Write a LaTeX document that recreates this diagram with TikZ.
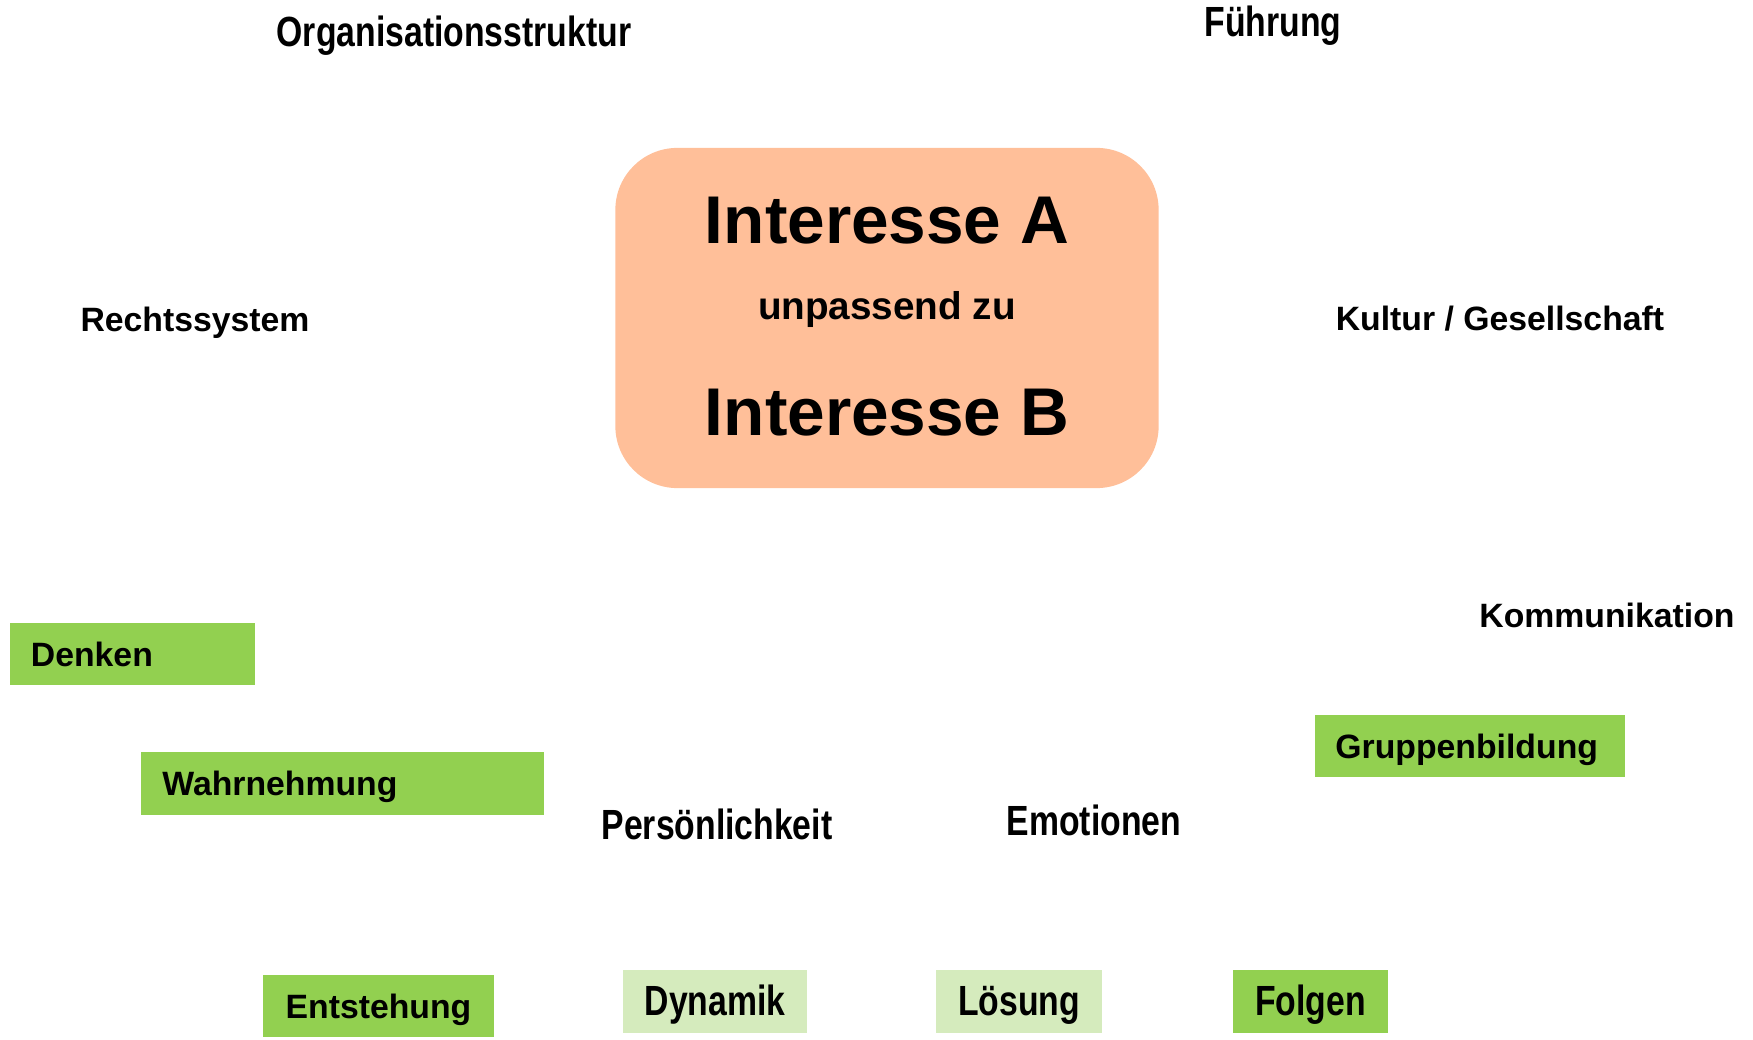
\documentclass[tikz,border=0pt]{standalone}
\usepackage{fontspec}
\setmainfont{Liberation Sans}
\newfontfamily\narrowsans[FakeStretch=0.8]{Liberation Sans}
\definecolor{peach}{HTML}{FFBF99}
\definecolor{leafgreen}{HTML}{92D050}
\definecolor{palegreen}{HTML}{D5EBBD}

\begin{document}
\begin{tikzpicture}[x=0.01cm, y=-0.01cm,
    lbl/.style={anchor=base, inner sep=0pt, font=\fontsize{9.6}{11}\selectfont\bfseries},
    narrowlbl/.style={anchor=base, inner sep=0pt, font=\narrowsans\fontsize{12}{14}\selectfont\bfseries},
    tag/.style={fill=leafgreen, minimum height=0.62cm, inner ysep=0pt, text height=0.7em, text depth=0pt,
        font=\fontsize{9.6}{11}\selectfont\bfseries},
    lefttag/.style={tag, align=left, inner xsep=0.21cm, text width=#1},
    narrowtag/.style={tag, inner xsep=0pt, text height=0.78em, font=\narrowsans\fontsize{12}{14}\selectfont\bfseries},
    core/.style={fill=peach, rounded corners=0.62cm, minimum width=5.43cm, minimum height=3.40cm}]
    \useasboundingbox (0,0) rectangle (1753,1040);

    % central conflict
    \node[core] (conflict) at (887,318) {};
    \node[anchor=base, inner sep=0pt, font=\fontsize{19.2}{22}\selectfont\bfseries] (intA) at (887,244) {Interesse A};
    \node[anchor=base, inner sep=0pt, font=\fontsize{11}{13}\selectfont\bfseries] (misfit) at (887,320) {unpassend zu};
    \node[anchor=base, inner sep=0pt, font=\fontsize{19.2}{22}\selectfont\bfseries] (intB) at (887,436) {Interesse B};

    % surrounding factors
    \node[narrowlbl] (org) at (454,47) {Organisationsstruktur};
    \node[narrowlbl] (lead) at (1273,37) {Führung};
    \node[lbl] (law) at (195,332) {Rechtssystem};
    \node[lbl] (culture) at (1500,331) {Kultur / Gesellschaft};
    \node[lbl] (comm) at (1607,628) {Kommunikation};
    \node[narrowlbl] (person) at (717,840) {Persönlichkeit};
    \node[narrowlbl] (emo) at (1094,836) {Emotionen};

    % green tags
    \node[lefttag=2.03cm] (think) at (132.5,654) {Denken};
    \node[lefttag=3.60cm] (percept) at (342.5,783.5) {Wahrnehmung};
    \node[lefttag=2.69cm, inner xsep=0.2cm] (groups) at (1470,746) {Gruppenbildung};
    \node[tag, minimum width=2.31cm] (origin) at (378.5,1006) {Entstehung};
    \node[narrowtag, fill=palegreen, minimum width=1.83cm] (dyn) at (715,1001.5) {Dynamik};
    \node[narrowtag, fill=palegreen, minimum width=1.65cm] (solve) at (1019,1001.5) {Lösung};
    \node[narrowtag, minimum width=1.54cm] (result) at (1310.5,1001.5) {Folgen};
\end{tikzpicture}
\end{document}
